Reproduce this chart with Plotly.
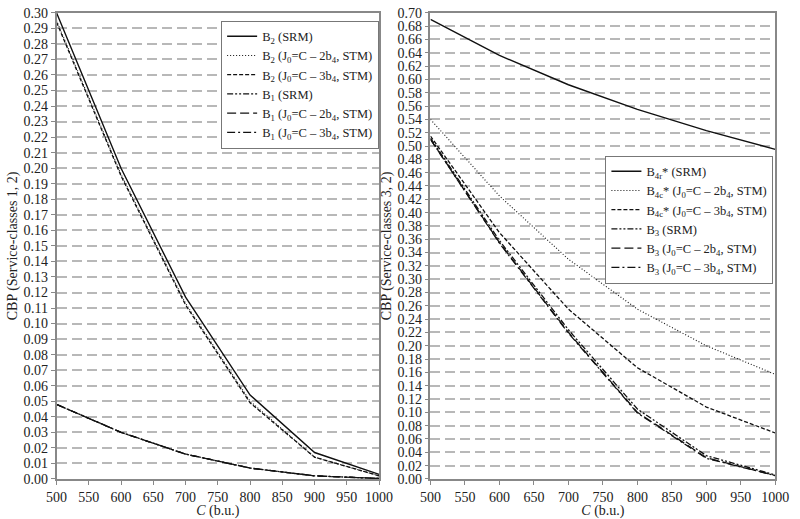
import plotly.graph_objects as go

C = [500, 600, 700, 800, 900, 1000]

# Left panel (service-classes 1, 2)
b2_srm = [0.300, 0.200, 0.117, 0.054, 0.017, 0.003]
b2_j2 = [0.295, 0.196, 0.113, 0.050, 0.014, 0.002]
b2_j3 = [0.294, 0.195, 0.112, 0.049, 0.014, 0.002]
b1_srm = [0.048, 0.030, 0.016, 0.007, 0.002, 0.0003]
b1_j2 = [0.048, 0.030, 0.016, 0.007, 0.002, 0.0003]
b1_j3 = [0.048, 0.030, 0.016, 0.007, 0.002, 0.0003]

# Right panel (service-classes 3, 2)
b4_srm = [0.690, 0.636, 0.592, 0.555, 0.523, 0.495]
b4_j2 = [0.540, 0.425, 0.330, 0.255, 0.200, 0.157]
b4_j3 = [0.515, 0.370, 0.255, 0.167, 0.108, 0.069]
b3_srm = [0.512, 0.358, 0.224, 0.105, 0.035, 0.006]
b3_j2 = [0.510, 0.355, 0.220, 0.100, 0.032, 0.005]
b3_j3 = [0.510, 0.354, 0.219, 0.099, 0.031, 0.005]

left_ticks = [i / 100 for i in range(0, 31)]
right_ticks = [i / 100 for i in range(0, 71, 2)]
x_ticks = list(range(500, 1001, 50))

left_names = [
    "B<sub>2</sub> (SRM)",
    "B<sub>2</sub> (J<sub>0</sub>=C – 2b<sub>4</sub>, STM)",
    "B<sub>2</sub> (J<sub>0</sub>=C – 3b<sub>4</sub>, STM)",
    "B<sub>1</sub> (SRM)",
    "B<sub>1</sub> (J<sub>0</sub>=C – 2b<sub>4</sub>, STM)",
    "B<sub>1</sub> (J<sub>0</sub>=C – 3b<sub>4</sub>, STM)",
]
right_names = [
    "B<sub>4r</sub>* (SRM)",
    "B<sub>4c</sub>* (J<sub>0</sub>=C – 2b<sub>4</sub>, STM)",
    "B<sub>4c</sub>* (J<sub>0</sub>=C – 3b<sub>4</sub>, STM)",
    "B<sub>3</sub> (SRM)",
    "B<sub>3</sub> (J<sub>0</sub>=C – 2b<sub>4</sub>, STM)",
    "B<sub>3</sub> (J<sub>0</sub>=C – 3b<sub>4</sub>, STM)",
]

dashes = ["solid", "1px,2px", "4px,2px", "6px,2px,2px,2px,2px,2px", "9px,4px", "8px,3px,2px,3px"]
widths = [1.4, 1.1, 1.3, 1.3, 1.3, 1.3]

fig = go.Figure()
for name, ys, d, w in zip(left_names, [b2_srm, b2_j2, b2_j3, b1_srm, b1_j2, b1_j3], dashes, widths):
    fig.add_trace(go.Scatter(x=C, y=ys, mode="lines", name=name, xaxis="x", yaxis="y",
                             line=dict(color="#111111", width=w, dash=d), legend="legend"))
for name, ys, d, w in zip(right_names, [b4_srm, b4_j2, b4_j3, b3_srm, b3_j2, b3_j3], dashes, widths):
    fig.add_trace(go.Scatter(x=C, y=ys, mode="lines", name=name, xaxis="x2", yaxis="y2",
                             line=dict(color="#111111", width=w, dash=d), legend="legend2"))

fam = "Liberation Serif, Times New Roman, serif"
font = dict(family=fam, size=14, color="#222222")
W, H = 800, 519
y_dom = [1 - 486 / H, 1 - 6 / H]

xcommon = dict(range=[500, 1000], tickmode="array", tickvals=x_ticks, showgrid=False,
               showline=True, linecolor="#888888", linewidth=1.5, mirror=True,
               ticks="outside", ticklen=4, tickcolor="#888888", zeroline=False,
               tickfont=font, ticklabeloverflow="allow")
ycommon = dict(showgrid=True, gridcolor="#b8b8b8", griddash="10px,5px", gridwidth=1.6,
               showline=True, linecolor="#888888", linewidth=1.5, mirror=True,
               ticks="outside", ticklen=4, tickcolor="#888888", zeroline=False,
               tickformat=".2f", tickfont=font, tickmode="array", ticklabeloverflow="allow")

legfont = dict(family=fam, size=12.5, color="#222222")

fig.update_layout(
    width=W, height=H,
    margin=dict(l=0, r=0, t=0, b=0),
    paper_bgcolor="white", plot_bgcolor="white",
    font=font,
    xaxis=dict(domain=[47 / W, 380 / W], anchor="y", **xcommon,
               title=dict(text="<i>C</i> (b.u.)", font=font, standoff=3)),
    yaxis=dict(domain=y_dom, anchor="x", range=[0, 0.30], tickvals=left_ticks,
               title=dict(text="CBP (Service-classes 1, 2)", font=font, standoff=3), **ycommon),
    xaxis2=dict(domain=[433 / W, 789 / W], anchor="y2", **xcommon,
                title=dict(text="<i>C</i> (b.u.)", font=font, standoff=3)),
    yaxis2=dict(domain=y_dom, anchor="x2", range=[0, 0.70], tickvals=right_ticks,
                title=dict(text="CBP (Service-classes 3, 2)", font=font, standoff=3), **ycommon),
    legend=dict(x=380 / W, xanchor="right", y=1 - 14 / H, yanchor="top",
                bgcolor="white", bordercolor="#777777", borderwidth=1,
                font=legfont, itemwidth=30, tracegroupgap=0, traceorder="normal"),
    legend2=dict(x=787 / W, xanchor="right", y=1 - 153 / H, yanchor="top",
                 bgcolor="white", bordercolor="#777777", borderwidth=1,
                 font=legfont, itemwidth=30, tracegroupgap=0, traceorder="normal"),
)

fig.write_html("out.html")
